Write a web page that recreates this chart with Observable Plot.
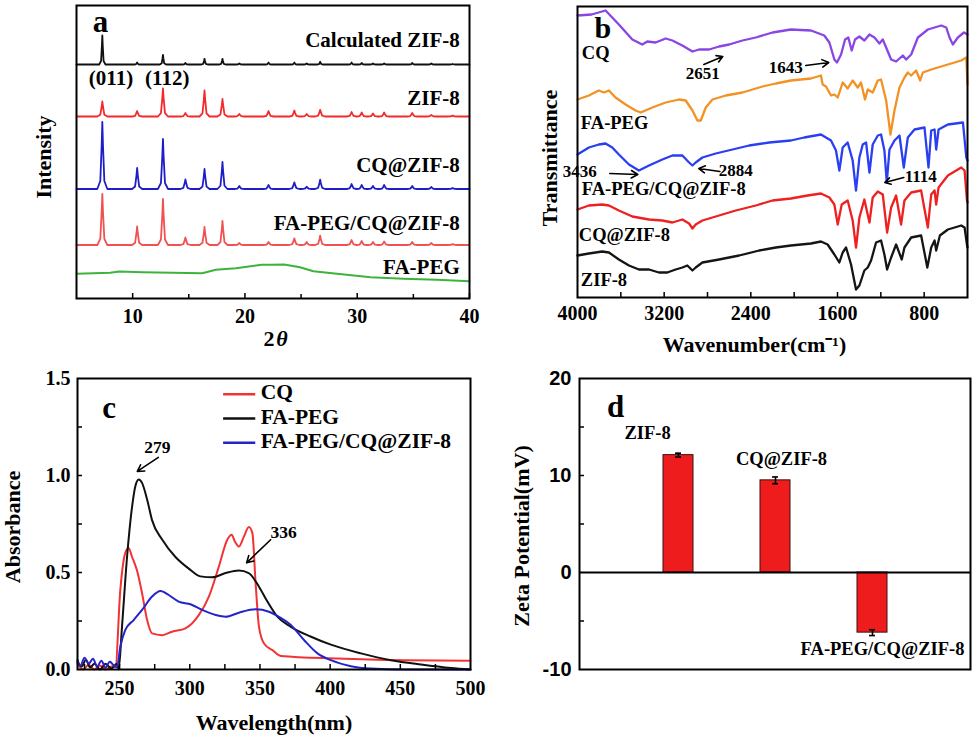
<!DOCTYPE html>
<html><head><meta charset="utf-8">
<script src="https://cdn.jsdelivr.net/npm/d3@7"></script>
<script src="https://cdn.jsdelivr.net/npm/@observablehq/plot@0.6"></script>
<style>
html,body{margin:0;padding:0;background:#fff;}
#fig{position:relative;width:979px;height:739px;overflow:hidden;background:#fff;}
.panel{position:absolute;}
.panel svg{overflow:visible;}
</style></head><body>
<div id="fig">
<div class="panel" id="pa" style="left:0;top:0;width:490px;height:370px"></div>
<div class="panel" id="pb" style="left:490px;top:0;width:489px;height:370px"></div>
<div class="panel" id="pc" style="left:0;top:370px;width:490px;height:369px"></div>
<div class="panel" id="pd" style="left:490px;top:370px;width:489px;height:369px"></div>
</div>
<script>
// ---------- (a) XRD: peak positions (2θ) and peak heights above each stacked baseline (a.u.)
const xrdPeakPositions = [7.3, 10.4, 12.7, 14.7, 16.4, 18.0, 19.5, 22.1, 24.4, 25.5, 26.7, 29.5, 30.4, 31.4, 32.4, 34.9, 36.6, 38.5];
const xrdCalculatedHeights = [29, 2, 9.7, 1.5, 5.7, 5.7, 1, 2, 2, 1, 2.7, 2, 1.5, 1, 1, 1.5, 1, 0.5];
const xrdZif8Heights = [15, 5.5, 28, 3.5, 26, 17.5, 2.5, 5.5, 6, 2.5, 6.7, 4.5, 4, 3, 4, 3.5, 1.5, 1];
const xrdCqZif8Heights = [67, 21, 50, 9.5, 20, 27, 3, 4, 6.7, 2.3, 9.3, 5, 4, 3, 4, 3, 2, 1];
const xrdFaPegCqZif8Heights = [51, 18.5, 46, 7.5, 18, 24, 2, 3, 6.7, 3, 9.3, 5, 4, 3, 3.5, 3, 2, 1];
const xrdBaselines = [234, 182, 109.5, 53.5];
const xrdFaPeg2Theta = [5, 8, 8.8, 10.9, 16.2, 17.4, 19.2, 21.5, 22.3, 23.5, 24.9, 26.1, 28.2, 31.2, 34.1, 37.1, 40];
const xrdFaPegIntensity = [24.7, 25.7, 27, 26.3, 25.3, 28.7, 30.3, 33.7, 33.7, 34, 31.3, 27.3, 24.7, 21.3, 19.7, 18.7, 17.3];
const xrdNames = ["Calculated ZIF-8", "ZIF-8", "CQ@ZIF-8", "FA-PEG/CQ@ZIF-8", "FA-PEG"];
const xrdTicks = [10, 20, 30, 40];

// ---------- (b) FTIR: [wavenumber, transmittance (stacked a.u.)]
const ftirCQ = [[4000,282],[3870,283],[3741,287],[3618,273],[3494,258],[3402,253],[3356,256],[3279,255],[3186,259],[3124,257],[3032,252],[2939,246],[2878,248],[2785,248],[2693,251],[2600,253],[2477,257],[2354,260],[2200,265],[2030,268],[1845,267],[1722,262],[1675,255],[1629,238],[1605,235],[1567,243],[1530,258],[1500,260],[1469,247],[1438,258],[1398,261],[1352,257],[1305,263],[1259,260],[1213,254],[1182,258],[1151,250],[1105,238],[1059,236],[997,242],[966,238],[920,243],[858,260],[766,268],[643,272],[596,270],[566,260],[535,253],[489,260],[433,265],[400,263]];
const ftirFaPeg = [[4000,198],[3895,202],[3803,207],[3756,205],[3710,207],[3649,200],[3556,193],[3464,187],[3417,185],[3309,190],[3186,195],[3063,198],[3001,197],[2939,187],[2893,177],[2862,177],[2816,190],[2754,198],[2631,202],[2477,205],[2292,211],[2169,214],[2030,217],[1845,219],[1753,222],[1737,213],[1706,211],[1660,202],[1629,203],[1598,200],[1552,215],[1506,209],[1460,217],[1413,210],[1383,215],[1346,198],[1321,208],[1275,205],[1228,217],[1198,218],[1151,197],[1111,163],[1074,187],[1028,210],[982,220],[951,225],[920,222],[874,227],[837,217],[812,225],[735,228],[581,233],[458,237],[411,240],[400,213]];
const ftirFaPegCqZif8 = [[4000,143],[3895,150],[3803,153],[3741,154],[3679,150],[3618,143],[3525,133],[3433,127],[3340,132],[3217,138],[3124,142],[3032,142],[2970,135],[2939,132],[2909,135],[2847,140],[2724,144],[2569,148],[2415,152],[2230,155],[2030,157],[1907,160],[1753,163],[1722,161],[1660,157],[1614,147],[1583,127],[1552,150],[1506,155],[1460,137],[1429,107],[1398,140],[1367,153],[1336,155],[1305,125],[1275,153],[1228,162],[1198,163],[1167,147],[1145,115],[1120,148],[1074,157],[1028,162],[988,130],[951,160],[889,168],[797,170],[760,130],[735,167],[704,168],[689,148],[667,168],[581,173],[442,175],[411,140],[400,137]];
const ftirCqZif8 = [[4000,88],[3895,92],[3772,93],[3710,92],[3618,87],[3494,81],[3340,78],[3217,77],[3124,75],[3032,78],[2970,74],[2939,69],[2909,73],[2847,77],[2693,82],[2539,87],[2354,92],[2200,97],[2030,99],[1876,102],[1753,104],[1675,100],[1629,93],[1598,73],[1561,93],[1506,97],[1460,77],[1429,50],[1398,80],[1352,98],[1305,75],[1275,100],[1228,106],[1182,103],[1142,65],[1105,90],[1059,102],[1013,73],[982,97],[920,105],[828,107],[766,70],[735,103],[704,107],[689,93],[667,110],[581,122],[458,130],[427,127],[405,97],[400,95]];
const ftirZif8 = [[4000,42],[3895,44],[3772,46],[3710,45],[3618,38],[3525,32],[3433,28],[3340,28],[3248,25],[3171,25],[3094,28],[3032,30],[2986,32],[2939,27],[2909,30],[2847,35],[2693,38],[2508,42],[2323,47],[2169,50],[2030,52],[1845,54],[1753,56],[1691,53],[1629,43],[1583,35],[1552,45],[1521,50],[1475,33],[1429,8],[1398,12],[1352,27],[1321,30],[1290,37],[1244,55],[1198,57],[1167,43],[1142,28],[1105,40],[1059,53],[1007,38],[982,50],[920,60],[828,62],[771,30],[735,50],[704,57],[689,47],[655,62],[581,68],[458,72],[427,70],[405,53],[400,50]];
const ftirNames = ["CQ", "FA-PEG", "FA-PEG/CQ@ZIF-8", "CQ@ZIF-8", "ZIF-8"];
const ftirTicks = [4000, 3200, 2400, 1600, 800];

// ---------- (c) UV-vis: [wavelength nm, absorbance]
const uvCQ = [[220,0.03],[224,0.0],[228,0.025],[232,0.0],[236,0.02],[240,0.0],[244,0.015],[247,0.013],[250.5,0.41],[254,0.60],[256.4,0.626],[258.9,0.58],[262.4,0.51],[266,0.393],[269.6,0.255],[273.1,0.186],[280.3,0.177],[287.4,0.195],[296.9,0.212],[306.4,0.28],[313.6,0.376],[320.7,0.53],[326.7,0.669],[329.8,0.695],[332.1,0.66],[335,0.634],[338.6,0.686],[342.1,0.735],[344.6,0.703],[346.9,0.445],[349.3,0.22],[352.9,0.134],[358.9,0.10],[364.8,0.07],[405,0.057],[453,0.048],[500,0.045]];
const uvFaPeg = [[220,0.04],[223,0.015],[226,0.05],[229,0.01],[232,0.03],[236,0.0],[240,0.03],[244,0.005],[248,0.03],[249.3,0.0],[251.7,0.22],[255.3,0.58],[258.9,0.84],[261.2,0.945],[263.6,0.98],[266,0.962],[269.6,0.876],[273.1,0.77],[280.3,0.67],[289.8,0.58],[299.3,0.52],[307.6,0.48],[316,0.475],[325.5,0.497],[335,0.51],[342,0.497],[349.3,0.427],[355.3,0.35],[362.4,0.272],[372,0.22],[386,0.17],[400.5,0.128],[422,0.083],[443.4,0.048],[464.8,0.026],[486.2,0.008],[500,0.0]];
const uvFaPegCqZif8 = [[220,0.05],[222,0.02],[225,0.06],[228,0.03],[231,0.055],[234,0.015],[237,0.045],[240,0.01],[243,0.04],[246,0.02],[248.1,0.013],[250.5,0.117],[254,0.203],[260,0.255],[266,0.307],[273.1,0.376],[279.1,0.405],[285,0.384],[292.1,0.35],[300.5,0.336],[308.8,0.307],[318.4,0.281],[325.5,0.272],[335,0.293],[346.9,0.31],[356.4,0.298],[361.2,0.281],[372,0.229],[381.4,0.152],[391,0.083],[400.5,0.048],[414.8,0.017],[429,0.005],[453,0.0],[500,0.0]];
const uvNames = ["CQ", "FA-PEG", "FA-PEG/CQ@ZIF-8"];
const uvXTicks = [250, 300, 350, 400, 450, 500];
const uvYTicks = [0, 0.5, 1.0, 1.5];

// ---------- (d) Zeta potential
const zetaSamples = ["ZIF-8", "CQ@ZIF-8", "FA-PEG/CQ@ZIF-8"];
const zetaMean = [12.1, 9.5, -6.2];
const zetaErr = [0.2, 0.35, 0.3];
const zetaTicks = [-10, 0, 10, 20];

// ================= drawing =================
const SERIF = "Liberation Serif";
const SANS = "Liberation Sans";
const baseStyle = {background: "white", fontFamily: SERIF, fontWeight: "bold", fontSize: "20px", color: "black", overflow: "visible"};
const pairs = arr => arr.map(([x, y]) => ({x, y}));
const T = (opts) => Object.assign({fontFamily: SERIF, fontWeight: "bold", fill: "black"}, opts);
const plain = d => String(d);

// ---- panel a
function xrdLine(base, heights, w) {
  const pts = [{x: 5, y: base}];
  xrdPeakPositions.forEach((p, i) => {
    const h = heights[i];
    pts.push({x: p - w, y: base}, {x: p - w * 0.4, y: base + h * 0.12}, {x: p - w * 0.13, y: base + h * 0.65},
             {x: p, y: base + h}, {x: p + w * 0.13, y: base + h * 0.65}, {x: p + w * 0.4, y: base + h * 0.12}, {x: p + w, y: base});
  });
  pts.push({x: 40, y: base});
  return pts;
}
const xrdColors = ["#111111", "#f42a2a", "#1e1ec8", "#ef5252", "#3cb43c"];
const xrdHeights = [xrdCalculatedHeights, xrdZif8Heights, xrdCqZif8Heights, xrdFaPegCqZif8Heights];
const faPegLine = xrdFaPeg2Theta.map((x, i) => ({x, y: xrdFaPegIntensity[i]}));
const aLabelY = [258, 200.7, 133, 75.3, 31.3];

const pa = Plot.plot({
  width: 490, height: 370, marginLeft: 76, marginRight: 21, marginTop: 5, marginBottom: 72,
  x: {domain: [5, 40], label: null}, y: {domain: [0, 293], axis: null, label: null},
  style: baseStyle,
  marks: [
    ...xrdHeights.map((h, k) => Plot.line(xrdLine(xrdBaselines[k], h, k === 0 ? 0.28 : 0.45), {x: "x", y: "y", stroke: xrdColors[k], strokeWidth: 1.8})),
    Plot.line(faPegLine, {x: "x", y: "y", stroke: xrdColors[4], strokeWidth: 2}),
    Plot.ruleX(xrdTicks, {insetTop: 288, stroke: "black", strokeWidth: 1.5}),
    Plot.ruleX([15, 25, 35], {insetTop: 289, stroke: "black", strokeWidth: 1.5}),
    Plot.axisX({ticks: xrdTicks, tickSize: 0, tickPadding: 10, tickFormat: plain, label: null, fontSize: 20, fontFamily: SERIF, fontWeight: "bold"}),
    Plot.frame({stroke: "black", strokeWidth: 2}),
    ...xrdNames.map((n, k) => Plot.text([n], T({x: 39.13, y: aLabelY[k], textAnchor: "end", fontSize: 21}))),
    Plot.text(["(011)"], T({x: 8.07, y: 220, fontSize: 21})),
    Plot.text(["(112)"], T({x: 13.08, y: 220, fontSize: 21})),
    Plot.text(["a"], T({x: 7.14, y: 276, fontSize: 31})),
    Plot.text(["Intensity"], T({frameAnchor: "left", textAnchor: "middle", lineAnchor: "middle", rotate: -90, dx: -33, dy: 5, fontSize: 22})),
    Plot.text(["2"], T({frameAnchor: "bottom", textAnchor: "middle", lineAnchor: "middle", dx: -4, dy: 40, fontSize: 22})),
    Plot.text(["θ"], T({frameAnchor: "bottom", textAnchor: "middle", lineAnchor: "middle", dx: 9, dy: 40, fontSize: 22, fontStyle: "italic"}))
  ]
});
document.getElementById("pa").appendChild(pa);

// ---- panel b
const ftirSeries = [ftirCQ, ftirFaPeg, ftirFaPegCqZif8, ftirCqZif8, ftirZif8];
const ftirColors = ["#8a45e5", "#f29225", "#2a3ef2", "#ee2020", "#151515"];
const bLabels = [[3960, 244], [3969, 174], [3960, 108], [3988, 62], [3969, 17]];
const bPeakLabels = [{t: "2651", x: 2843, y: 224}, {t: "1643", x: 2077, y: 230}, {t: "2884", x: 2539, y: 127}, {t: "1114", x: 832, y: 121}, {t: "3436", x: 3979, y: 126, a: "start"}];
const bArrows = [{x1: 2834, y1: 233, x2: 2659, y2: 241}, {x1: 1893, y1: 232, x2: 1681, y2: 235}, {x1: 3702, y1: 124, x2: 3443, y2: 123}, {x1: 2686, y1: 126, x2: 2880, y2: 129}, {x1: 988, y1: 120, x2: 1163, y2: 115}];

const pb = Plot.plot({
  width: 489, height: 370, marginLeft: 87, marginRight: 12, marginTop: 6, marginBottom: 73,
  x: {domain: [4000, 400], label: null}, y: {domain: [0, 291], axis: null, label: null},
  style: baseStyle,
  marks: [
    ...ftirSeries.map((s, k) => Plot.line(pairs(s), {x: "x", y: "y", stroke: ftirColors[k], strokeWidth: 2.3})),
    Plot.ruleX([3600, 3200, 2800, 2400, 2000, 1600, 1200, 800], {insetTop: 286, stroke: "black", strokeWidth: 1.5}),
    Plot.axisX({ticks: ftirTicks, tickSize: 0, tickPadding: 8, tickFormat: plain, label: null, fontSize: 20, fontFamily: SERIF, fontWeight: "bold"}),
    Plot.frame({stroke: "black", strokeWidth: 2}),
    ...ftirNames.map((n, k) => Plot.text([n], T({x: bLabels[k][0], y: bLabels[k][1], textAnchor: "start", fontSize: 18.5}))),
    Plot.text(bPeakLabels, T({x: "x", y: "y", text: "t", textAnchor: d => d.a || "middle", fontSize: 17})),
    Plot.arrow(bArrows, {x1: "x1", y1: "y1", x2: "x2", y2: "y2", stroke: "black", strokeWidth: 1.6, headLength: 7}),
    Plot.text(["b"], T({x: 3766, y: 269, fontSize: 30})),
    Plot.text(["Transmittance"], T({frameAnchor: "left", textAnchor: "middle", lineAnchor: "middle", rotate: -90, dx: -28, dy: 6, fontSize: 22})),
    Plot.text(["Wavenumber(cm⁻¹)"], T({frameAnchor: "bottom", textAnchor: "middle", lineAnchor: "middle", dx: -18, dy: 47, fontSize: 22}))
  ]
});
document.getElementById("pb").appendChild(pb);

// ---- panel c
const uvSeries = [uvCQ, uvFaPeg, uvFaPegCqZif8];
const uvColors = ["#f23333", "#111111", "#2424c8"];
const pc = Plot.plot({
  width: 490, height: 369, marginLeft: 77, marginRight: 20, marginTop: 8, marginBottom: 70,
  x: {domain: [220, 500], label: null}, y: {domain: [0, 1.5], label: null},
  style: baseStyle,
  marks: [
    ...uvSeries.map((s, k) => Plot.line(pairs(s), {x: "x", y: "y", stroke: uvColors[k], strokeWidth: 2, curve: "monotone-x"})),
    Plot.ruleX([225, 250, 275, 300, 325, 350, 375, 400, 425, 450, 475], {insetTop: 286, stroke: "black", strokeWidth: 1.5}),
    Plot.ruleY([0.25, 0.5, 0.75, 1.0, 1.25], {insetRight: 388, stroke: "black", strokeWidth: 1.5}),
    Plot.axisX({ticks: uvXTicks, tickSize: 0, tickPadding: 11, tickFormat: plain, label: null, fontSize: 20, fontFamily: SERIF, fontWeight: "bold"}),
    Plot.axisY({ticks: uvYTicks, tickSize: 0, tickPadding: 7, tickFormat: d3.format(".1f"), label: null, fontSize: 20, fontFamily: SERIF, fontWeight: "bold"}),
    Plot.frame({stroke: "black", strokeWidth: 2}),
    ...uvNames.map((n, k) => Plot.ruleY([1.419 - k * 0.125], {x1: 324.1, x2: 347, stroke: uvColors[k], strokeWidth: 2.5})),
    ...uvNames.map((n, k) => Plot.text([n], T({x: 350.5, y: 1.428 - k * 0.125, textAnchor: "start", fontSize: 21.5}))),
    Plot.text(["279"], T({x: 276.9, y: 1.145, fontSize: 17.5})),
    Plot.text(["336"], T({x: 366.9, y: 0.706, fontSize: 17.5})),
    Plot.arrow([{x1: 277.6, y1: 1.093, x2: 262.6, y2: 1.021}, {x1: 357.6, y1: 0.669, x2: 340.5, y2: 0.55}], {x1: "x1", y1: "y1", x2: "x2", y2: "y2", stroke: "black", strokeWidth: 1.6, headLength: 7}),
    Plot.text(["c"], T({x: 242.6, y: 1.35, fontSize: 31})),
    Plot.text(["Absorbance"], T({frameAnchor: "left", textAnchor: "middle", lineAnchor: "middle", rotate: -90, dx: -65, dy: 3, fontSize: 22})),
    Plot.text(["Wavelength(nm)"], T({frameAnchor: "bottom", textAnchor: "middle", lineAnchor: "middle", dx: 0, dy: 53, fontSize: 22}))
  ]
});
document.getElementById("pc").appendChild(pc);

// ---- panel d
const zeta = zetaSamples.map((s, i) => ({sample: s, mean: zetaMean[i], err: zetaErr[i]}));
const zetaLabelPos = [{dx: -31, y: 14.35}, {dx: 6, y: 11.7}, {dx: 10, y: -7.9}];
const pd = Plot.plot({
  width: 489, height: 369, marginLeft: 89, marginRight: 9, marginTop: 8, marginBottom: 70,
  x: {type: "band", domain: zetaSamples, paddingInner: 0.693, paddingOuter: 0.8465, axis: null, label: null},
  y: {domain: [-10, 20], label: null},
  style: baseStyle,
  marks: [
    Plot.barY(zeta, {x: "sample", y: "mean", fill: "#ee1c1c", stroke: "#3a1010", strokeWidth: 1}),
    Plot.ruleY([0], {stroke: "black", strokeWidth: 2}),
    Plot.ruleX(zeta, {x: "sample", y1: d => d.mean - d.err, y2: d => d.mean + d.err, stroke: "black", strokeWidth: 1.6}),
    Plot.tickY(zeta, {x: "sample", y: d => d.mean + d.err, insetLeft: 12, insetRight: 12, stroke: "black", strokeWidth: 1.6}),
    Plot.tickY(zeta, {x: "sample", y: d => d.mean - d.err, insetLeft: 12, insetRight: 12, stroke: "black", strokeWidth: 1.6}),
    Plot.ruleY([-5, 5, 10, 15], {insetRight: 386, stroke: "black", strokeWidth: 1.5}),
    Plot.axisY({ticks: zetaTicks, tickSize: 0, tickPadding: 8, tickFormat: plain, label: null, fontSize: 20, fontFamily: SANS, fontWeight: "bold"}),
    Plot.frame({stroke: "black", strokeWidth: 2}),
    ...zetaSamples.map((s, i) => Plot.text([s], T({x: () => s, y: zetaLabelPos[i].y, dx: zetaLabelPos[i].dx, fontSize: 18.5}))),
    Plot.text(["d"], T({frameAnchor: "top-left", textAnchor: "middle", lineAnchor: "middle", dx: 36, dy: 29, fontSize: 31})),
    Plot.text(["Zeta Potential(mV)"], T({frameAnchor: "left", textAnchor: "middle", lineAnchor: "middle", rotate: -90, dx: -58, dy: 12, fontSize: 22}))
  ]
});
document.getElementById("pd").appendChild(pd);
</script>
</body></html>
